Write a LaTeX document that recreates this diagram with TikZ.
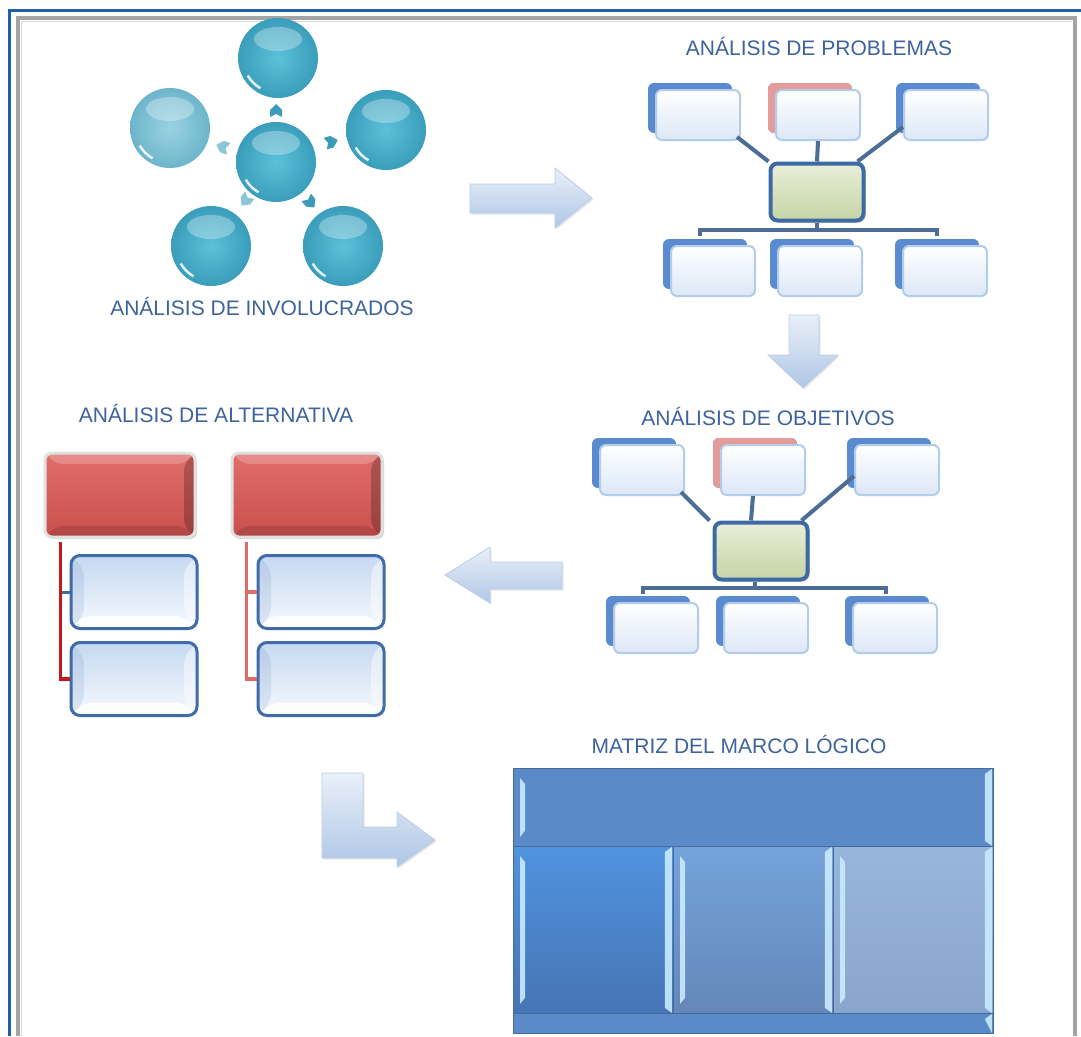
\documentclass[tikz,border=0pt]{standalone}
\usepackage{fontspec}
\setmainfont{Liberation Sans}
\usetikzlibrary{shapes.arrows,shapes.geometric,shadows,calc}
\definecolor{titlec}{HTML}{3D639C}
\definecolor{framebl}{HTML}{1F5FAA}
\definecolor{framegr}{HTML}{A4A4A4}
\definecolor{ballin}{HTML}{5CC1DA}
\definecolor{ballout}{HTML}{3A9DBA}
\definecolor{ballin2}{HTML}{9AD3E2}
\definecolor{ballout2}{HTML}{6DB5CB}
\definecolor{sac}{HTML}{3C9CB8}
\definecolor{sac2}{HTML}{8CC6D8}
\definecolor{backbl}{HTML}{5A8BD0}
\definecolor{backrd}{HTML}{E39C9A}
\definecolor{frontln}{HTML}{B3CCEA}
\definecolor{frontbt}{HTML}{DCE7F6}
\definecolor{greent}{HTML}{E8EED8}
\definecolor{greenb}{HTML}{C6D4A4}
\definecolor{greenln}{HTML}{3C6AA5}
\definecolor{orgln}{HTML}{4B6D96}
\definecolor{redt}{HTML}{E06D6A}
\definecolor{redb}{HTML}{C9504D}
\definecolor{altln}{HTML}{3F6BA9}
\definecolor{altt}{HTML}{C6D9F1}
\definecolor{altb}{HTML}{F5F9FE}
\definecolor{redl1}{HTML}{C41A1A}
\definecolor{redl2}{HTML}{E06A6A}
\definecolor{arrt}{HTML}{E9F0F9}
\definecolor{arrb}{HTML}{AFC6E6}
\definecolor{arrln}{HTML}{BBCDE6}
\definecolor{mtop}{HTML}{5A8AC8}
\definecolor{m1t}{HTML}{5193DF}
\definecolor{m1b}{HTML}{4674B4}
\definecolor{m2t}{HTML}{74A3DA}
\definecolor{m2b}{HTML}{6587B8}
\definecolor{m3t}{HTML}{98B5DC}
\definecolor{m3b}{HTML}{8AA5CB}
\definecolor{mln}{HTML}{46699E}
\definecolor{bevc}{HTML}{C9EBFF}
\tikzset{
  lbl/.style={text=titlec, font=\fontsize{21}{25}\selectfont, anchor=base, inner sep=0},
  ball/.style={circle, minimum size=80, inner sep=0, inner color=ballin, outer color=ballout,
    path picture={
      \fill[white, opacity=.3] ([yshift=19pt]path picture bounding box.center) ellipse (24pt and 12pt);
      \draw[white, opacity=.85, line width=2.5pt] (path picture bounding box.center) ++(120:35) arc (120:150:35);
    }},
  paleball/.style={ball, inner color=ballin2, outer color=ballout2},
  hs/.pic={\fill[pic actions] (-6,6) -- (-6,-1) -- (0,-7) -- (6,-1) -- (6,6) -- (0,3) -- cycle;},
  orgbox/.style={rounded corners=6, minimum width=84, minimum height=50, inner sep=0,
    draw=frontln, line width=2, top color=white, bottom color=frontbt,
    preaction={fill=backbl, transform canvas={shift={(-8pt,7pt)}}}},
  orgred/.style={orgbox, preaction={fill=backrd, transform canvas={shift={(-8pt,7pt)}}}},
  greenbox/.style={rounded corners=7, minimum width=93, minimum height=57, inner sep=0,
    draw=greenln, line width=4, top color=greent, bottom color=greenb,
    drop shadow={shadow xshift=2pt, shadow yshift=-2pt, fill=black!40}},
  orgline/.style={draw=orgln, line width=4},
  redbox/.style={rounded corners=7, minimum width=150, minimum height=84, inner sep=0,
    draw=black!12, line width=3, top color=redt, bottom color=redb,
    drop shadow={shadow xshift=2pt, shadow yshift=-2pt, fill=black!35},
    path picture={
      \coordinate (pa) at (path picture bounding box.north west);
      \coordinate (pb) at (path picture bounding box.north east);
      \coordinate (pc) at (path picture bounding box.south east);
      \coordinate (pd) at (path picture bounding box.south west);
      \fill[white, opacity=.22] (pa) -- (pb) -- ($(pb)+(-11,11)$) -- ($(pa)+(11,11)$) -- cycle;
      \fill[black, opacity=.22] (pb) -- (pc) -- ($(pc)+(-11,-11)$) -- ($(pb)+(-11,11)$) -- cycle;
      \fill[black, opacity=.12] (pd) -- (pc) -- ($(pc)+(-11,-11)$) -- ($(pd)+(11,-11)$) -- cycle;
    }},
  altbox/.style={rounded corners=9, minimum width=126, minimum height=73, inner sep=0,
    draw=altln, line width=3, top color=altt, bottom color=altb,
    path picture={
      \coordinate (pa) at (path picture bounding box.north west);
      \coordinate (pb) at (path picture bounding box.north east);
      \coordinate (pc) at (path picture bounding box.south east);
      \coordinate (pd) at (path picture bounding box.south west);
      \fill[white, opacity=.9] (pd) -- (pc) -- ($(pc)+(-13,-13)$) -- ($(pd)+(13,-13)$) -- cycle;
      \fill[white, opacity=.45] (pb) -- (pc) -- ($(pc)+(-13,-13)$) -- ($(pb)+(-13,13)$) -- cycle;
      \fill[altln, opacity=.12] (pa) -- (pd) -- ($(pd)+(13,-13)$) -- ($(pa)+(13,13)$) -- cycle;
    }},
  redline/.style={draw=redl1, line width=3.5},
  redline2/.style={draw=redl2, line width=3.5},
  stubline/.style={draw=altln, line width=3},
  bigarrow/.style={top color=arrt, bottom color=arrb, draw=arrln, line width=.8,
    drop shadow={shadow xshift=1.5pt, shadow yshift=-1.5pt, fill=black!18}},
  mcell/.style={rectangle, anchor=north west, inner sep=0, draw=mln, line width=.8},
  bev/.style={fill=bevc, opacity=.9},
}
\begin{document}
\begin{tikzpicture}[x=1pt,y=-1pt]
\useasboundingbox (0,0) rectangle (1081,1036);
\fill[white] (0,0) rectangle (1081,1036);
% frame
\draw[framebl, line width=3] (9,1036) -- (9,10) -- (1081,10);
\draw[framegr, line width=4] (18,1036) -- (18,18) -- (1075,18) -- (1075,1036);
\draw[black!15, line width=1.5] (21.5,1036) -- (21.5,21.5) -- (1071.5,21.5);

% ---------- Analisis de involucrados ----------
\node[ball] (c0) at (276,162) {};
\node[ball] (c1) at (278,58) {};
\node[ball] (c2) at (386,130) {};
\node[ball] (c3) at (343,246) {};
\node[ball] (c4) at (211,246) {};
\node[paleball] (c5) at (170,128) {};
\pic[fill=sac] at (276,111) {hs};
\pic[rotate=-74, fill=sac] at (331,142) {hs};
\pic[rotate=72, fill=sac2] at (223,147) {hs};
\pic[rotate=142, fill=sac2] at (246,200) {hs};
\pic[rotate=-141, fill=sac] at (310,202) {hs};
\node[lbl] (t1) at (262,315) {ANÁLISIS DE INVOLUCRADOS};

% arrow right
\path[bigarrow] (470,184) -- (555,184) -- (555,168) -- (592,198) -- (555,228) -- (555,213) -- (470,213) -- cycle;

% ---------- Analisis de problemas ----------
\node[lbl] (t2) at (819,55) {ANÁLISIS DE PROBLEMAS};
\node[orgbox] (p1) at (698,115) {};
\node[orgred] (p2) at (818,115) {};
\node[orgbox] (p3) at (946,115) {};
\node[greenbox] (pg) at (817,192) {};
\node[orgbox] (p4) at (713,271) {};
\node[orgbox] (p5) at (820,271) {};
\node[orgbox] (p6) at (945,271) {};
\draw[orgline] ([xshift=-4pt,yshift=4pt]p1.south east) -- (pg.north west);
\draw[orgline] (p2.south) -- (pg.north);
\draw[orgline] ([yshift=14pt]p3.south west) -- ([xshift=-8pt]pg.north east);
\coordinate (pb1) at (700,236);
\coordinate (pb3) at (937,236);
\draw[orgline] (pg.south) -- (pg.south |- 0,230);
\draw[orgline] (pb1) -- (pb1 |- 0,230) -- (pb3 |- 0,230) -- (pb3);

% arrow down
\path[bigarrow] (789,315) -- (819,315) -- (819,355) -- (838,355) -- (803,388) -- (768,355) -- (789,355) -- cycle;

% ---------- Analisis de objetivos ----------
\node[lbl] (t3) at (768,425) {ANÁLISIS DE OBJETIVOS};
\node[orgbox] (o1) at (642,470) {};
\node[orgred] (o2) at (763,470) {};
\node[orgbox] (o3) at (897,470) {};
\node[greenbox] (og) at (761,551) {};
\node[orgbox] (o4) at (656,628) {};
\node[orgbox] (o5) at (766,628) {};
\node[orgbox] (o6) at (895,628) {};
\draw[orgline] ([xshift=-4pt,yshift=4pt]o1.south east) -- ([xshift=-3pt]og.north west);
\draw[orgline] ([xshift=-10pt]o2.south) -- ([xshift=-10pt]og.north);
\draw[orgline] ([yshift=20pt]o3.south west) -- ([xshift=-8pt]og.north east);
\coordinate (ob1) at (643,594);
\coordinate (ob3) at (886,594);
\draw[orgline] ([xshift=-6pt]og.south) -- ([xshift=-6pt]og.south |- 0,588);
\draw[orgline] (ob1) -- (ob1 |- 0,588) -- (ob3 |- 0,588) -- (ob3);

% arrow left
\path[bigarrow] (562,562) -- (490,562) -- (490,547) -- (445,575) -- (490,603) -- (490,589) -- (562,589) -- cycle;

% ---------- Analisis de alternativa ----------
\node[lbl] (t4) at (216,422) {ANÁLISIS DE ALTERNATIVA};
\node[redbox] (r1) at (120,495) {};
\node[redbox] (r2) at (307,495) {};
\node[altbox] (a1) at (134,592) {};
\node[altbox] (a2) at (134,679) {};
\node[altbox] (a3) at (321,592) {};
\node[altbox] (a4) at (321,679) {};
\coordinate (rl1) at ($(r1.south west)+(17,3)$);
\coordinate (rl2) at ($(r2.south west)+(16,3)$);
\draw[stubline] (rl1 |- a1.west) -- (a1.west);
\draw[redline] (rl1) |- (a2.west);
\draw[redline2] (rl2) |- (a4.west);
\draw[redline2] (rl2 |- a3.west) -- (a3.west);

% L arrow
\path[bigarrow]
  (322,773) -- (363,773) -- (363,827) -- (397,827) -- (397,812) -- (435,840)
  -- (397,867) -- (397,858) -- (322,858) -- cycle;

% ---------- Matriz ----------
\node[lbl] (t5) at (739,753) {MATRIZ DEL MARCO LÓGICO};
\node[mcell, minimum width=480, minimum height=78, fill=mtop] (mt) at (513,768) {};
\node[mcell, minimum width=160, minimum height=167, top color=m1t, bottom color=m1b] (m1) at (513,846) {};
\node[mcell, minimum width=160, minimum height=167, top color=m2t, bottom color=m2b] (m2) at (673,846) {};
\node[mcell, minimum width=160, minimum height=167, top color=m3t, bottom color=m3b] (m3) at (833,846) {};
\node[mcell, minimum width=480, minimum height=20, fill=mtop] (mb) at (513,1013) {};
\foreach \n in {mt,m1,m2,m3}{
  \fill[bev] ($(\n.north west)+(7,10)$) -- ($(\n.north west)+(12,16)$) -- ($(\n.south west)+(12,-16)$) -- ($(\n.south west)+(7,-10)$) -- cycle;
  \fill[bev] ($(\n.north east)+(-9,6)$) -- ($(\n.north east)+(-2,1)$) -- ($(\n.south east)+(-2,-1)$) -- ($(\n.south east)+(-9,-6)$) -- cycle;
}
\fill[bev] ($(mb.north east)+(-9,6)$) -- ($(mb.north east)+(-2,1)$) -- ($(mb.south east)+(-2,-1)$) -- cycle;
\end{tikzpicture}
\end{document}
